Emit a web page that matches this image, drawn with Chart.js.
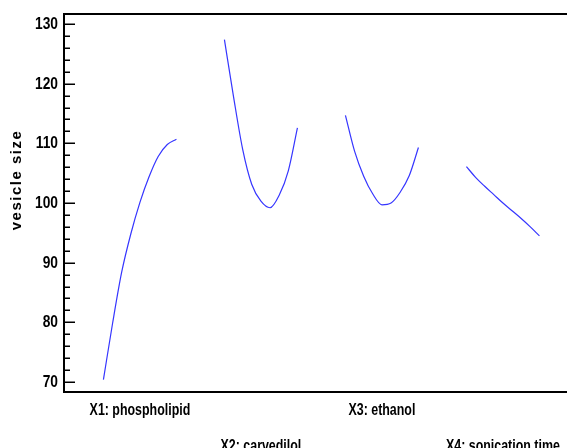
<!DOCTYPE html>
<html lang="en">
<head>
    <meta charset="UTF-8">
    <title>Vesicle size</title>
    <script src="https://cdn.jsdelivr.net/npm/chart.js"></script>
    <style>
        body { margin: 0; background: #fff; }
        canvas { display: block; }
    </style>
</head>
<body>
<canvas id="effectsChart" width="567" height="448"></canvas>

<script>
    // factors and coded levels (-1 .. +1) of each one-factor trace
    const factors = ['X1: phospholipid', 'X2: carvedilol', 'X3: ethanol', 'X4: sonication time'];
    const levels = [-1, -0.75, -0.5, -0.25, 0, 0.25, 0.5, 0.75, 1];
    const phospholipid = [70.4, 79.8, 88.4, 94.8, 100.1, 104.4, 107.8, 109.8, 110.7];
    const carvedilol = [127.4, 117.8, 109.0, 103.1, 100.3, 99.2, 101.3, 105.4, 112.6];
    const ethanol = [114.7, 108.7, 104.5, 101.5, 99.7, 100.0, 101.8, 104.6, 109.3];
    const sonication = [106.1, 104.3, 102.8, 101.4, 100.0, 98.7, 97.4, 96.0, 94.5];
    const yTicks = [70, 80, 90, 100, 110, 120, 130];

    const series = [phospholipid, carvedilol, ethanol, sonication];
    const spacing = 3.315;   // distance between factor centres on the x scale
    const centres = factors.map((_, i) => i * spacing);

    const datasets = series.map((vals, i) => ({
        label: factors[i],
        data: levels.map((lv, j) => ({ x: centres[i] + lv, y: vals[j] })),
        borderColor: '#3535ff',
        borderWidth: 1.2,
        pointRadius: 0,
        cubicInterpolationMode: 'monotone',
        fill: false
    }));

    // condensed text (no narrow font installed, so squeeze it horizontally)
    function narrowText(ctx, text, x, y, size, squeeze, align, baseline) {
        ctx.save();
        ctx.translate(x, y);
        ctx.scale(squeeze, 1);
        ctx.font = 'bold ' + size + 'px "Liberation Sans", Arial, sans-serif';
        ctx.textAlign = align;
        ctx.textBaseline = baseline;
        ctx.fillText(text, 0, 0);
        ctx.restore();
    }

    // inward tick marks, top frame line, tick labels and rotated axis title
    const frame = {
        id: 'frame',
        afterDraw(chart) {
            const { ctx, chartArea, scales } = chart;
            const y = scales.y;
            const x = scales.x;
            ctx.save();
            ctx.strokeStyle = '#000';
            ctx.fillStyle = '#000';
            ctx.lineWidth = 1.5;
            for (let v = 70; v <= 130; v += 2) {
                const py = Math.round(y.getPixelForValue(v)) + 0.25;
                const len = v % 10 === 0 ? 11 : 6;
                ctx.beginPath();
                ctx.moveTo(chartArea.left, py);
                ctx.lineTo(chartArea.left + len, py);
                ctx.stroke();
            }
            ctx.lineWidth = 2;
            ctx.beginPath();
            ctx.moveTo(chartArea.left - 1, chartArea.top);
            ctx.lineTo(chart.width, chartArea.top);
            ctx.stroke();

            y.ticks.forEach(t => {
                narrowText(ctx, String(t.value), chartArea.left - 6, y.getPixelForValue(t.value) + 0.5,
                    16, 0.86, 'right', 'middle');
            });
            x.ticks.forEach((t, i) => {
                const base = chartArea.bottom + 23 + (i % 2) * 36;
                narrowText(ctx, factors[i], x.getPixelForValue(t.value), base, 17, 0.73, 'center', 'alphabetic');
            });

            ctx.translate(17, 180);
            ctx.rotate(-Math.PI / 2);
            ctx.font = 'bold 15px "Liberation Sans", Arial, sans-serif';
            ctx.letterSpacing = '1.5px';
            ctx.textAlign = 'center';
            ctx.textBaseline = 'middle';
            ctx.fillText('vesicle size', 0, 0);
            ctx.restore();
        }
    };

    new Chart(document.getElementById('effectsChart'), {
        type: 'line',
        data: { datasets },
        options: {
            responsive: false,
            animation: false,
            devicePixelRatio: 1,
            layout: { padding: { top: 14, left: 0, right: 0, bottom: 0 } },
            plugins: { legend: { display: false }, tooltip: { enabled: false } },
            scales: {
                x: {
                    type: 'linear',
                    min: -2.08,
                    max: 11.7,
                    afterBuildTicks: axis => { axis.ticks = centres.map(v => ({ value: v })); },
                    afterFit: axis => { axis.height = 56; },
                    grid: { display: false, drawTicks: false },
                    border: { display: true, color: '#000', width: 2 },
                    ticks: { display: false }
                },
                y: {
                    min: 68.32,
                    max: 131.68,
                    afterBuildTicks: axis => { axis.ticks = yTicks.map(v => ({ value: v })); },
                    afterFit: axis => { axis.width = 64; },
                    grid: { display: false, drawTicks: false },
                    border: { display: true, color: '#000', width: 2 },
                    ticks: { display: false }
                }
            }
        },
        plugins: [frame]
    });
</script>
</body>
</html>
